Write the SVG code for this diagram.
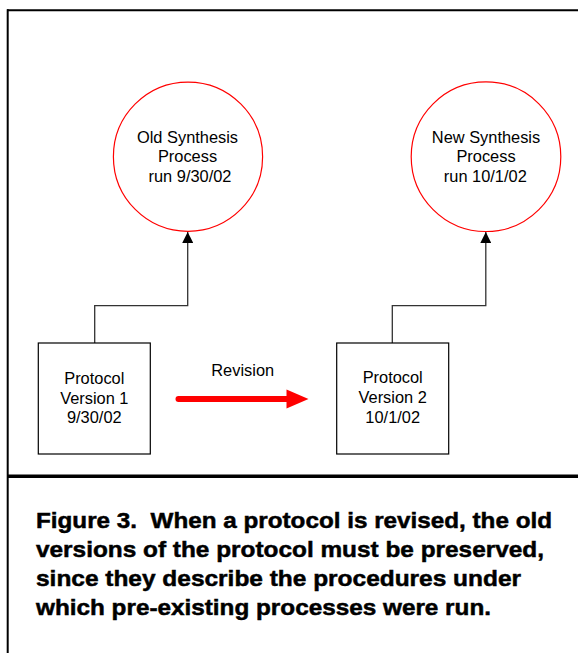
<svg xmlns="http://www.w3.org/2000/svg" width="578" height="653" viewBox="0 0 578 653">
  <style>
    .lbl { font-family: "Liberation Sans", Arial, sans-serif; font-size: 16.4px; fill: #000; text-anchor: middle; }
    .cap { font-family: "Liberation Sans", Arial, sans-serif; font-size: 22.5px; font-weight: bold; fill: #000; stroke: #000; stroke-width: 0.5; }
    .proc { fill: #fff; stroke: #ff0000; stroke-width: 1.2; }
    .proto { fill: #fff; stroke: #000; stroke-width: 1.2; }
    .link { fill: none; stroke: #333; stroke-width: 1.3; }
    .frame { stroke: #000; fill: none; }
  </style>
  <defs>
    <marker id="tri" viewBox="0 0 11 11" refX="11" refY="5.5" markerWidth="11" markerHeight="11" markerUnits="userSpaceOnUse" orient="auto">
      <path d="M0,0 L11,5.5 L0,11 Z" fill="#000"/>
    </marker>
  </defs>

  <rect width="578" height="653" fill="#fff"/>

  <!-- outer frame and caption divider -->
  <g id="frame">
    <line class="frame" x1="7" y1="10.3" x2="578" y2="10.3" stroke-width="2"/>
    <line class="frame" x1="7.7" y1="9.3" x2="7.7" y2="653" stroke-width="2"/>
    <line class="frame" x1="7" y1="476.2" x2="578" y2="476.2" stroke-width="3.6"/>
  </g>

  <!-- connectors -->
  <g id="connectors">
    <path class="link" d="M94.7,343 V305.7 H187.7 V232" marker-end="url(#tri)"/>
    <path class="link" d="M392.3,343 V305.7 H485.8 V232" marker-end="url(#tri)"/>
    <g id="revision">
      <line x1="178.5" y1="399" x2="288" y2="399" stroke="#ff0000" stroke-width="6" stroke-linecap="round"/>
      <path d="M286.5,389.5 L308.5,399 L286.5,408.5 Z" fill="#ff0000"/>
      <text class="lbl" x="242.7" y="376">Revision</text>
    </g>
  </g>

  <g id="old-process">
    <circle class="proc" cx="188" cy="156.7" r="74.6"/>
    <text class="lbl" x="187.5" y="143.3">Old Synthesis</text>
    <text class="lbl" x="187.5" y="162.3">Process</text>
    <text class="lbl" x="190" y="181.7">run 9/30/02</text>
  </g>

  <g id="new-process">
    <circle class="proc" cx="486" cy="156.7" r="74.8"/>
    <text class="lbl" x="486" y="143.3">New Synthesis</text>
    <text class="lbl" x="486" y="162.3">Process</text>
    <text class="lbl" x="485.3" y="181.7">run 10/1/02</text>
  </g>

  <g id="protocol-v1">
    <rect class="proto" x="38.3" y="343" width="112" height="111"/>
    <text class="lbl" x="94.3" y="384">Protocol</text>
    <text class="lbl" x="94.3" y="403.7">Version 1</text>
    <text class="lbl" x="94.3" y="423.3">9/30/02</text>
  </g>

  <g id="protocol-v2">
    <rect class="proto" x="336.7" y="343" width="112" height="111"/>
    <text class="lbl" x="392.7" y="383.3">Protocol</text>
    <text class="lbl" x="392.7" y="403.3">Version 2</text>
    <text class="lbl" x="392.7" y="422.7">10/1/02</text>
  </g>

  <g id="caption">
    <text class="cap" x="36" y="528" textLength="516" lengthAdjust="spacingAndGlyphs" xml:space="preserve">Figure 3.  When a protocol is revised, the old</text>
    <text class="cap" x="36" y="557" textLength="508" lengthAdjust="spacingAndGlyphs">versions of the protocol must be preserved,</text>
    <text class="cap" x="36" y="586" textLength="485" lengthAdjust="spacingAndGlyphs">since they describe the procedures under</text>
    <text class="cap" x="36" y="615" textLength="455" lengthAdjust="spacingAndGlyphs">which pre-existing processes were run.</text>
  </g>
</svg>
